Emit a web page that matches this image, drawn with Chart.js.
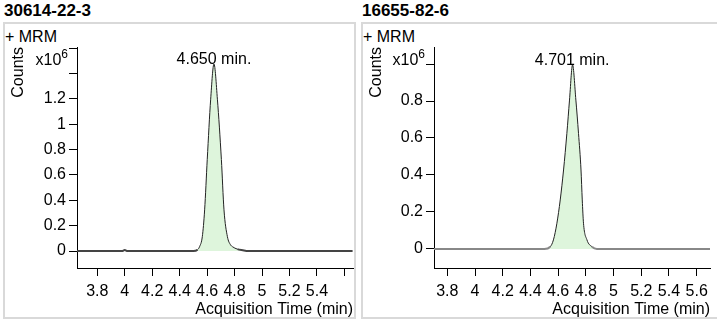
<!DOCTYPE html>
<html>
<head>
<meta charset="utf-8">
<script src="https://cdn.jsdelivr.net/npm/chart.js@4.4.1/dist/chart.umd.min.js"></script>
<style>
    body {
        margin: 0;
        width: 717px;
        height: 322px;
        overflow: hidden;
        background: #fff;
        position: relative;
        font-family: "Liberation Sans", Arial, sans-serif;
        color: #000;
    }
    .title {
        position: absolute;
        top: 1px;
        font-size: 17px;
        line-height: 20px;
        font-weight: bold;
    }
    .box {
        position: absolute;
        top: 22px;
        height: 297px;
        border: 2px solid #d9d9d9;
        box-sizing: border-box;
    }
    .mrm {
        position: absolute;
        top: 28px;
        font-size: 16px;
        line-height: 18px;
    }
    canvas {
        position: absolute;
        top: 0;
    }
</style>
</head>
<body>
<div class="title" style="left:4px">30614-22-3</div>
<div class="title" style="left:362px">16655-82-6</div>
<div class="box" style="left:3px;width:353px"></div>
<div class="box" style="left:361px;width:400px"></div>
<div class="mrm" style="left:5px">+ MRM</div>
<div class="mrm" style="left:363px">+ MRM</div>
<canvas id="leftChart" width="358" height="322" style="left:0"></canvas>
<canvas id="rightChart" width="359" height="322" style="left:358px"></canvas>

<script>
const leftTime = [3.65, 3.98, 4.0, 4.02, 4.5, 4.53, 4.545, 4.565, 4.582, 4.601, 4.626, 4.65,
    4.675, 4.704, 4.723, 4.748, 4.77, 4.785, 4.82, 4.86, 4.9, 5.66];
const leftCounts = [0, 0, 0.008, 0, 0, 0.01, 0.034, 0.113, 0.325, 0.722, 1.198, 1.476,
    1.198, 0.722, 0.325, 0.113, 0.05, 0.034, 0.015, 0.006, 0, 0];

const rightTime = [3.70, 4.50, 4.543, 4.566, 4.591, 4.615, 4.639, 4.663, 4.682, 4.704,
    4.728, 4.747, 4.765, 4.774, 4.783, 4.808, 4.844, 4.88, 5.70];
const rightCounts = [0, 0, 0.012, 0.049, 0.139, 0.265, 0.427, 0.625, 0.805, 0.995,
    0.805, 0.625, 0.427, 0.265, 0.139, 0.049, 0.012, 0, 0];

const xTicks = [3.8, 4, 4.2, 4.4, 4.6, 4.8, 5, 5.2, 5.4, 5.6];
const leftXLabels = ["3.8", "4", "4.2", "4.4", "4.6", "4.8", "5", "5.2", "5.4", ""];
const rightXLabels = ["3.8", "4", "4.2", "4.4", "4.6", "4.8", "5", "5.2", "5.4", "5.6"];

const leftYTicks = [0, 0.2, 0.4, 0.6, 0.8, 1, 1.2, 1.4, 1.6];
const leftYLabels = ["0", "0.2", "0.4", "0.6", "0.8", "1", "1.2", "", ""];
const rightYTicks = [0, 0.2, 0.4, 0.6, 0.8, 1];
const rightYLabels = ["0", "0.2", "0.4", "0.6", "0.8", ""];

const leftPeak = {time: 4.650, label: "4.650 min."};
const rightPeak = {time: 4.701, label: "4.701 min."};

Chart.defaults.font.family = "'Liberation Sans', Arial, sans-serif";
Chart.defaults.font.size = 16;
Chart.defaults.color = "#000";

// x10^6 + étiquette du pic
const annotPlugin = {
    id: "annot",
    afterDraw(chart, args, opts) {
        const ctx = chart.ctx;
        const area = chart.chartArea;
        const xs = chart.scales.x;
        const ys = chart.scales.y;
        ctx.save();
        ctx.fillStyle = "#000";
        ctx.textBaseline = "middle";

        // multiplicateur
        ctx.font = "12px 'Liberation Sans', Arial, sans-serif";
        ctx.textAlign = "right";
        const supX = area.left - 9;
        ctx.fillText("6", supX, 55);
        const w6 = ctx.measureText("6").width;
        ctx.font = "16px 'Liberation Sans', Arial, sans-serif";
        ctx.fillText("x10", supX - w6, 61);

        // temps de rétention
        const data = chart.data.datasets[0].data;
        let top = data[0];
        data.forEach(p => { if (p.y > top.y) top = p; });
        ctx.textAlign = "center";
        ctx.fillText(opts.label, xs.getPixelForValue(opts.time), ys.getPixelForValue(top.y) - 4);
        ctx.restore();
    }
};

function makeChart(id, time, counts, cfg) {
    const points = time.map((t, i) => ({x: t, y: counts[i]}));
    const isBase = c => c.p0.parsed.y < 0.02 && c.p1.parsed.y < 0.02;

    return new Chart(document.getElementById(id), {
        type: "line",
        data: {
            datasets: [{
                data: points,
                borderColor: "#222",
                borderWidth: 1,
                backgroundColor: "#def5dc",
                fill: "origin",
                pointRadius: 0,
                cubicInterpolationMode: "monotone",
                segment: {
                    borderColor: c => isBase(c) ? cfg.baseColor : undefined,
                    borderWidth: c => isBase(c) ? 2 : undefined,
                }
            }]
        },
        options: {
            responsive: false,
            animation: false,
            layout: {padding: {top: 47, right: cfg.padRight, bottom: 0, left: 0}},
            plugins: {
                legend: {display: false},
                tooltip: {enabled: false},
                annot: cfg.peak,
            },
            scales: {
                x: {
                    type: "linear",
                    min: cfg.xMin,
                    max: cfg.xMax,
                    afterBuildTicks: s => { s.ticks = xTicks.map(v => ({value: v})); },
                    afterFit: s => { s.height = 54; },
                    ticks: {
                        autoSkip: false,
                        maxRotation: 0,
                        padding: 6,
                        callback: (v, i) => cfg.xLabels[i],
                    },
                    grid: {drawOnChartArea: false, tickLength: 8, tickColor: "#000"},
                    border: {color: "#000"},
                    title: {
                        display: true,
                        text: "Acquisition Time (min)",
                        align: "end",
                        padding: {top: 0, bottom: 3},
                    }
                },
                y: {
                    type: "linear",
                    min: cfg.yMin,
                    max: cfg.yMax,
                    afterBuildTicks: s => { s.ticks = cfg.yTicks.map(v => ({value: v})); },
                    afterFit: s => { s.width = cfg.left; },
                    ticks: {
                        autoSkip: false,
                        padding: 3,
                        callback: (v, i) => cfg.yLabels[i],
                    },
                    grid: {drawOnChartArea: false, tickLength: 8, tickColor: "#000"},
                    border: {color: "#000"},
                    title: {
                        display: true,
                        text: "Counts",
                        align: "end",
                        padding: {top: 9, bottom: 0},
                    }
                }
            }
        },
        plugins: [annotPlugin]
    });
}

makeChart("leftChart", leftTime, leftCounts, {
    left: 77, padRight: 5,
    xMin: 3.652, xMax: 5.663, xLabels: leftXLabels,
    yMin: -0.134, yMax: 1.61, yTicks: leftYTicks, yLabels: leftYLabels,
    baseColor: "#444",
    peak: leftPeak,
});

makeChart("rightChart", rightTime, rightCounts, {
    left: 76, padRight: 7,
    xMin: 3.704, xMax: 5.696, xLabels: rightXLabels,
    yMin: -0.103, yMax: 1.092, yTicks: rightYTicks, yLabels: rightYLabels,
    baseColor: "#888",
    peak: rightPeak,
});
</script>
</body>
</html>
